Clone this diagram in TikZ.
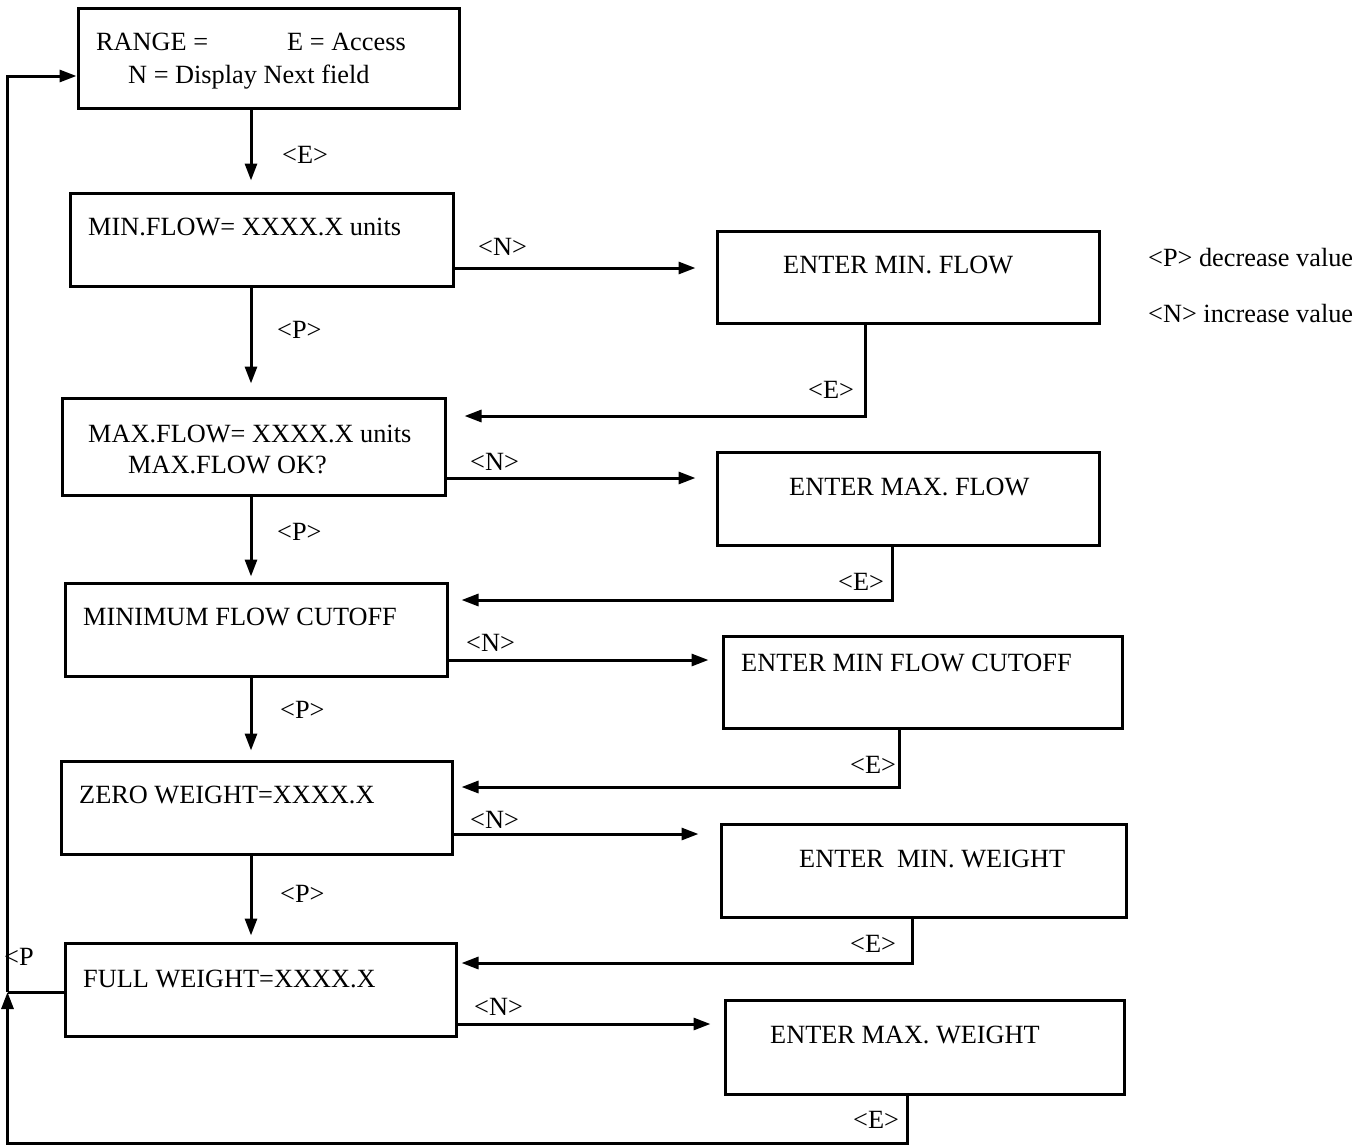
\documentclass[tikz,border=0pt]{standalone}
\usepackage{fontspec}
\setmainfont{Liberation Serif}
\usetikzlibrary{arrows.meta}
\begin{document}
\begin{tikzpicture}[x=1pt,y=-1pt,
  box/.style={draw,line width=3pt,rectangle,inner sep=0pt},
  txt/.style={anchor=base west,inner sep=0pt,font=\fontsize{26.3}{31}\selectfont},
  link/.style={line width=3pt,line join=miter},
  arr/.style={link,-{Triangle[length=17pt,width=12pt]}}]
\useasboundingbox (0,0) rectangle (1363,1146);

% left column of display fields
\node[box,minimum width=381pt,minimum height=100pt] (b1) at (268.5,58) {};
\node[box,minimum width=383pt,minimum height=93pt]  (b2) at (261.5,239.5) {};
\node[box,minimum width=383pt,minimum height=97pt]  (b3) at (253.5,446.5) {};
\node[box,minimum width=382pt,minimum height=93pt]  (b4) at (256,629.5) {};
\node[box,minimum width=391pt,minimum height=93pt]  (b5) at (256.5,807.5) {};
\node[box,minimum width=391pt,minimum height=93pt]  (b6) at (260.5,989.5) {};

% right column of entry screens
\node[box,minimum width=382pt,minimum height=92pt] (rA) at (908,277) {};
\node[box,minimum width=382pt,minimum height=93pt] (rB) at (908,498.5) {};
\node[box,minimum width=399pt,minimum height=92pt] (rC) at (922.5,682) {};
\node[box,minimum width=405pt,minimum height=93pt] (rD) at (923.5,870.5) {};
\node[box,minimum width=399pt,minimum height=94pt] (rE) at (924.5,1047) {};

% box texts
\node[txt] (t1a) at (96,50) {RANGE =};
\node[txt] (t1b) at (287,50) {E = Access};
\node[txt] (t1c) at (128,83) {N = Display Next field};
\node[txt] (t2) at (88,235) {MIN.FLOW= XXXX.X units};
\node[txt] (t3a) at (88,442) {MAX.FLOW= XXXX.X units};
\node[txt] (t3b) at (128,473) {MAX.FLOW OK?};
\node[txt] (t4) at (83,625) {MINIMUM FLOW CUTOFF};
\node[txt] (t5) at (79,803) {ZERO WEIGHT=XXXX.X};
\node[txt] (t6) at (83,987) {FULL WEIGHT=XXXX.X};
\node[txt] (tA) at (783,273) {ENTER MIN. FLOW};
\node[txt] (tB) at (789,495) {ENTER MAX. FLOW};
\node[txt] (tC) at (741,671) {ENTER MIN FLOW CUTOFF};
\node[txt] (tD) at (799,867) {ENTER\ \ MIN. WEIGHT};
\node[txt] (tE) at (770,1043) {ENTER MAX. WEIGHT};

% key labels
\node[txt] (kE1) at (282,163) {<E>};
\node[txt] (kP2) at (277,338) {<P>};
\node[txt] (kP3) at (277,540) {<P>};
\node[txt] (kP4) at (280,718) {<P>};
\node[txt] (kP5) at (280,902) {<P>};
\node[txt] (kN2) at (478,255) {<N>};
\node[txt] (kN3) at (470,470) {<N>};
\node[txt] (kN4) at (466,651) {<N>};
\node[txt] (kN5) at (470,828) {<N>};
\node[txt] (kN6) at (474,1015) {<N>};
\node[txt] (kEA) at (808,398) {<E>};
\node[txt] (kEB) at (838,590) {<E>};
\node[txt] (kEC) at (850,773) {<E>};
\node[txt] (kED) at (850,952) {<E>};
\node[txt] (kEE) at (853,1128) {<E>};
\node[txt] (kLP) at (4,965) {<P};

% legend
\node[txt] (lg1) at (1148,266) {<P> decrease value};
\node[txt] (lg2) at (1148,322) {<N> increase value};

% main spine
\coordinate (spine) at (251,0);
\draw[arr,shorten >=11pt] (b1.south -| spine) -- (b2.north -| spine);
\draw[arr,shorten >=13pt] (b2.south -| spine) -- (b3.north -| spine);
\draw[arr,shorten >=5pt]  (b3.south -| spine) -- (b4.north -| spine);
\draw[arr,shorten >=9pt]  (b4.south -| spine) -- (b5.north -| spine);
\draw[arr,shorten >=6pt]  (b5.south -| spine) -- (b6.north -| spine);

% <N> branches
\coordinate (n2) at (0,268);
\coordinate (n3) at (0,478);
\coordinate (n4) at (0,660);
\coordinate (n5) at (0,834);
\coordinate (n6) at (0,1024);
\draw[arr,shorten >=20pt] (b2.east |- n2) -- (rA.west |- n2);
\draw[arr,shorten >=20pt] (b3.east |- n3) -- (rB.west |- n3);
\draw[arr,shorten >=13pt] (b4.east |- n4) -- (rC.west |- n4);
\draw[arr,shorten >=21pt] (b5.east |- n5) -- (rD.west |- n5);
\draw[arr,shorten >=13pt] (b6.east |- n6) -- (rE.west |- n6);

% <E> returns
\coordinate (eA) at (865,416);
\coordinate (eB) at (892,600);
\coordinate (eC) at (899,787);
\coordinate (eD) at (912,963);
\draw[arr,shorten >=18pt] (rA.south -| eA) |- (b3.east |- eA);
\draw[arr,shorten >=13pt] (rB.south -| eB) |- (b4.east |- eB);
\draw[arr,shorten >=8pt]  (rC.south -| eC) |- (b5.east |- eC);
\draw[arr,shorten >=4pt]  (rD.south -| eD) |- (b6.east |- eD);

% outer loop back to the first field
\coordinate (loopB) at (7.5,1143);
\coordinate (loopL) at (7.5,992);
\coordinate (loopT) at (7.5,76);
\coordinate (eE) at (907,1143);
\draw[link] (b6.west |- loopL) -- (loopL);
\draw[arr] (rE.south -| eE) -- (eE) -- (loopB) -- (loopL);
\draw[arr] (loopL) -- (loopT) -- (b1.west |- loopT);
\end{tikzpicture}
\end{document}
